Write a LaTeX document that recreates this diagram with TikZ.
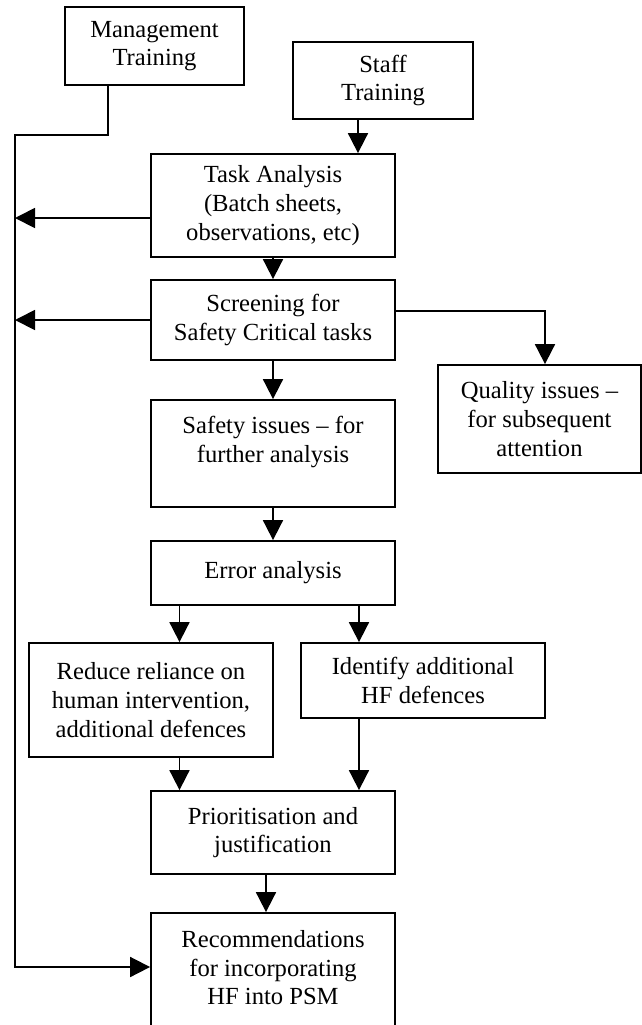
\documentclass[tikz,border=0pt]{standalone}
\usepackage{fontspec}
\setmainfont{Liberation Serif}
\usetikzlibrary{arrows.meta}

\begin{document}
\begin{tikzpicture}[x=0.5pt,y=-0.5pt,font=\fontsize{12.3}{14.3}\selectfont,line width=0.9pt,
  stage/.style={draw,align=center,inner sep=0pt,minimum width=122pt},
  flow/.style={-{Triangle[length=10pt,width=10pt]}}]
\useasboundingbox (0,0) rectangle (642,1025);
\clip (0,0) rectangle (642,1025);
\node[stage,minimum width=89.5pt,minimum height=39pt] (mgmt) at (154.5,46) {Management\\Training};
\node[stage,minimum width=90pt,minimum height=38.5pt] (staff) at (383,80.5) {Staff\\Training};
\node[stage,minimum height=51.5pt] (task) at (273,205.5) {Task Analysis\\(Batch sheets,\\observations, etc)};
\node[stage,minimum height=40pt] (screen) at (273,320) {Screening for\\Safety Critical tasks};
\node[stage,minimum width=101.5pt,minimum height=54pt] (quality) at (539.5,419) {Quality issues --\\for subsequent\\attention};
\node[stage,minimum height=53.5pt] (safety) at (273,453.5) {Safety issues -- for\\further analysis\\\mbox{}};
\node[stage,minimum height=32pt] (error) at (273,573) {Error analysis};
\node[stage,minimum height=57pt] (reduce) at (151,700) {Reduce reliance on\\human intervention,\\additional defences};
\node[stage,minimum height=37.5pt] (ident) at (423,680.5) {Identify additional\\HF defences};
\node[stage,minimum height=41.5pt] (prior) at (273,832.5) {Prioritisation and\\justification};
\node[stage,minimum height=69pt] (recs) at (273,982) {Recommendations\\for incorporating\\HF into PSM\\\mbox{}};
\coordinate (rail) at (15,135);
% main flow
\draw[flow] ([xshift=-12.5pt]staff.south) -- ([xshift=-12.5pt]staff.south |- task.north);
\draw[flow] (task) -- (screen);
\draw[flow] (screen) -- (safety);
\draw[flow] (safety) -- (error);
\draw[flow] ([xshift=-46.75pt]error.south) -- ([xshift=-46.75pt]error.south |- reduce.north);
\draw[flow] ([xshift=43pt]error.south) -- ([xshift=43pt]error.south |- ident.north);
\draw[flow] ([xshift=-46.75pt]prior.north |- reduce.south) -- ([xshift=-46.75pt]prior.north);
\draw[flow] ([xshift=43pt]prior.north |- ident.south) -- ([xshift=43pt]prior.north);
\draw[flow] ([xshift=-3.5pt]prior.south) -- ([xshift=-3.5pt]prior.south |- recs.north);
\draw[flow] ([yshift=4.5pt]screen.east) -| ([xshift=2.75pt]quality.north);
% management rail
\draw[flow] ([yshift=-6.25pt]task.west) -- ([yshift=-6.25pt]task.west -| rail);
\draw[flow] (screen.west) -- (screen.west -| rail);
\draw[flow] ([xshift=-23.25pt]mgmt.south) |- (rail) |- ([yshift=7.5pt]recs.west);
\end{tikzpicture}
\end{document}
